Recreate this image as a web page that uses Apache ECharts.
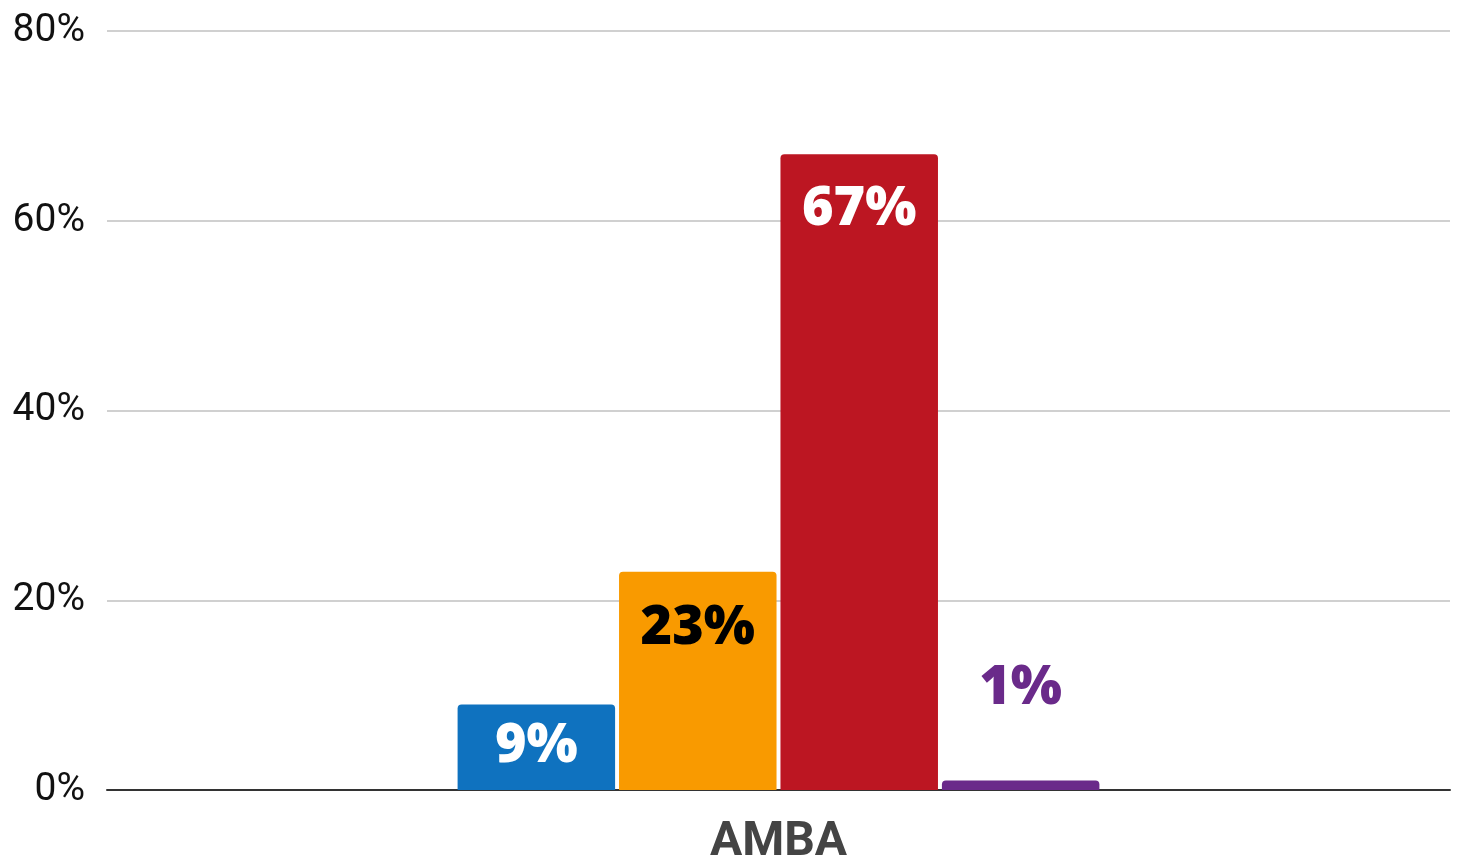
<!DOCTYPE html>
<html lang="es">
<head>
	<meta charset="utf-8"/>
	<title>AMBA</title>
	<script src="https://cdn.jsdelivr.net/npm/echarts@6/dist/echarts.min.js"></script>
	<style>
		html, body { margin: 0; padding: 0; background: #fff; }
		#chart { width: 1460px; height: 859px; }
	</style>
</head>
<body>
<div id="chart"></div>
<script type="text/javascript">
	// datos
	var categorias = ['AMBA'];
	var serieAzul = [9];
	var serieNaranja = [23];
	var serieRoja = [67];
	var serieVioleta = [1];
	var ticksY = [0, 20, 40, 60, 80];

	var chart = echarts.init(document.getElementById('chart'));

	function barra(nombre, datos, color, etiqueta) {
		return {
			name: nombre,
			type: 'bar',
			data: datos,
			barWidth: 157.5,
			barGap: '2.5%',
			itemStyle: { color: color, borderRadius: [4, 4, 0, 0] },
			label: Object.assign({
				show: true,
				formatter: '{c}%',
				fontFamily: 'Open Sans',
				fontWeight: 800,
				fontSize: 54
			}, etiqueta)
		};
	}

	var option = {
		animation: false,
		grid: { left: 107, right: 10, top: 31, bottom: 69, containLabel: false, outerBoundsMode: 'none' },
		xAxis: {
			type: 'category',
			data: categorias,
			axisTick: { show: false },
			axisLine: { lineStyle: { color: '#333', width: 2 } },
			axisLabel: {
				color: '#444',
				fontFamily: 'Roboto',
				fontWeight: 'bold',
				fontSize: 48,
				margin: 29
			}
		},
		yAxis: {
			type: 'value',
			min: ticksY[0],
			max: ticksY[ticksY.length - 1],
			interval: 20,
			axisLine: { show: false },
			axisTick: { show: false },
			splitLine: { lineStyle: { color: '#d0d0d0', width: 2 } },
			axisLabel: {
				formatter: '{value}%',
				color: '#111',
				fontFamily: 'Roboto',
				fontSize: 39,
				margin: 22,
				padding: [12, 0, 0, 0]
			}
		},
		series: [
			barra('azul', serieAzul, '#0f72bf', { position: 'insideTop', distance: 15, color: '#fff' }),
			barra('naranja', serieNaranja, '#f99a00', { position: 'insideTop', distance: 30, color: '#000' }),
			barra('roja', serieRoja, '#bc1622', { position: 'insideTop', distance: 28, color: '#fff' }),
			barra('violeta', serieVioleta, '#6a2a8a', { position: 'top', distance: 65, color: '#6a2a8a' })
		]
	};
	chart.setOption(option);
</script>
</body>
</html>
